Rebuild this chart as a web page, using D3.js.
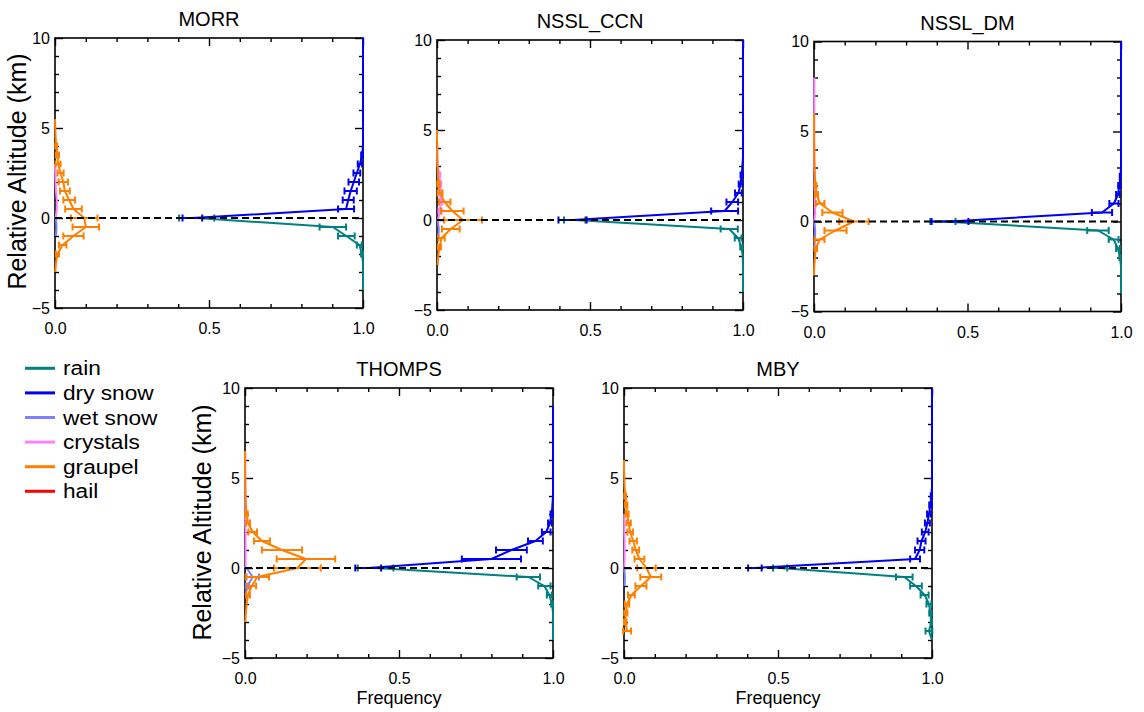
<!DOCTYPE html>
<html><head><meta charset="utf-8">
<script src="https://cdn.jsdelivr.net/npm/d3@7"></script>
<style>body{margin:0;background:#fff}svg{display:block}</style>
</head><body><svg id="c" width="1144" height="712"></svg>
<script>
const n = null;
// altitude levels (km relative)
const ALT = [-5,-4.5,-4,-3.5,-3, -2.5,-2,-1.5,-1,-0.5, 0,0.5,1,1.5,2, 2.5,3,3.5,4,4.5, 5,5.5,6,6.5,7, 7.5,8,8.5,9,9.5, 10];
const MODELS = ["MORR","NSSL_CCN","NSSL_DM","THOMPS","MBY"];
const SPECIES = ["rain","dry snow","wet snow","crystals","graupel","hail"];
const X_MAJOR = [0,0.5,1];
const X_LABELS = ["0.0","0.5","1.0"];
const X_MINOR = [0.1,0.2,0.3,0.4,0.6,0.7,0.8,0.9];
const Y_MAJOR = [-5,0,5,10];
const Y_LABELS = ["\u22125","0","5","10"];
const Y_MINOR = [-4,-3,-2,-1,1,2,3,4,6,7,8,9];

const NO_ERR = [0,0,0,0,0, 0,0,0,0,0, 0,0,0,0,0, 0,0,0,0,0, 0,0,0,0,0, 0,0,0,0,0, 0];
const noHail = [n,n,n,n,n, n,n,n,n,n, n,n,n,n,n, n,n,n,n,n, n,n,n,n,n, n,n,n,n,n, n];

// MORR
const morrRain    = [n,n,1,1,1, 1,.997,.988,.946,.902, .46,n,n,n,n, n,n,n,n,n, n,n,n,n,n, n,n,n,n,n, n];
const morrRainErr = [0,0,0,0,0, 0,.003,.008,.027,.043, .057,0,0,0,0, 0,0,0,0,0, 0,0,0,0,0, 0,0,0,0,0, 0];
const morrDry     = [n,n,n,n,n, n,n,n,n,n, .446,.945,.952,.96,.97, .98,.99,.997,1,1, 1,1,1,1,1, 1,1,1,1,1, 1];
const morrDryErr  = [0,0,0,0,0, 0,0,0,0,0, .032,.026,.018,.02,.017, .011,.007,.003,0,0, 0,0,0,0,0, 0,0,0,0,0, 0];
const morrWet     = [n,n,n,n,n, n,n,n,.003,.005, .003,n,n,n,n, n,n,n,n,n, n,n,n,n,n, n,n,n,n,n, n];
const morrCrys    = [n,n,n,n,n, n,n,n,n,n, .002,.006,.006,.003,.002, .001,0,n,n,n, n,n,n,n,n, n,n,n,n,n, n];
const morrGrau    = [n,n,n,n,.001, .003,.008,.025,.06,.1, .095,.06,.046,.032,.027, .018,.01,.008,.004,.002, .001,0,n,n,n, n,n,n,n,n, n];
const morrGrauErr = [0,0,0,0,0, 0,.005,.012,.033,.043, .043,.027,.019,.016,.015, .01,.008,.005,.003,0, 0,0,0,0,0, 0,0,0,0,0, 0];

// NSSL_CCN
const ccnRain     = [n,n,1,1,1, 1,.999,.995,.984,.955, .45,n,n,n,n, n,n,n,n,n, n,n,n,n,n, n,n,n,n,n, n];
const ccnRainErr  = [0,0,0,0,0, 0,0,.004,.011,.028, .035,0,0,0,0, 0,0,0,0,0, 0,0,0,0,0, 0,0,0,0,0, 0];
const ccnDry      = [n,n,n,n,n, n,n,n,n,n, .443,.94,.965,.985,.992, .996,.998,1,1,1, 1,1,1,1,1, 1,1,1,1,1, 1];
const ccnDryErr   = [0,0,0,0,0, 0,0,0,0,0, .046,.044,.019,.011,.006, .004,0,0,0,0, 0,0,0,0,0, 0,0,0,0,0, 0];
const ccnWet      = [n,n,n,n,n, n,n,n,.004,.006, .002,n,n,n,n, n,n,n,n,n, n,n,n,n,n, n,n,n,n,n, n];
const ccnCrys     = [n,n,n,n,n, n,n,n,n,n, .003,.01,.012,.012,.01, .008,.002,.001,0,n, n,n,n,n,n, n,n,n,n,n, n];
const ccnCrysErr  = [0,0,0,0,0, 0,0,0,0,0, 0,.005,.005,.004,.004, .003,0,0,0,0, 0,0,0,0,0, 0,0,0,0,0, 0];
const ccnGrau     = [n,n,n,n,n, .002,.004,.008,.015,.045, .085,.05,.025,.01,.005, .003,.002,.001,.001,0, 0,n,n,n,n, n,n,n,n,n, n];
const ccnGrauErr  = [0,0,0,0,0, 0,0,.005,.01,.029, .062,.037,.019,.008,.004, 0,0,0,0,0, 0,0,0,0,0, 0,0,0,0,0, 0];

// NSSL_DM
const dmRain      = [n,n,1,1,1, 1,.997,.99,.976,.925, .42,n,n,n,n, n,n,n,n,n, n,n,n,n,n, n,n,n,n,n, n];
const dmRainErr   = [0,0,0,0,0, 0,.002,.006,.016,.035, .041,0,0,0,0, 0,0,0,0,0, 0,0,0,0,0, 0,0,0,0,0, 0];
const dmDry       = [n,n,n,n,n, n,n,n,n,n, .443,.938,.977,.99,.995, .998,1,1,1,1, 1,1,1,1,1, 1,1,1,1,1, 1];
const dmDryErr    = [0,0,0,0,0, 0,0,0,0,0, .06,.033,.015,.006,.004, .002,0,0,0,0, 0,0,0,0,0, 0,0,0,0,0, 0];
const dmWet       = [n,n,n,n,n, n,n,.001,.003,.004, .001,n,n,n,n, n,n,n,n,n, n,n,n,n,n, n,n,n,n,n, n];
const dmCrys      = [n,n,n,n,n, n,n,n,n,n, .001,.004,.003,.003,.002, .002,.001,.001,.001,.001, .001,.001,.001,.001,.001, .001,.001,n,n,n, n];
const dmGrau      = [n,n,n,n,0, .001,.003,.006,.018,.07, .13,.06,.02,.008,.005, .003,.002,.001,.001,0, 0,0,0,n,n, n,n,n,n,n, n];
const dmGrauErr   = [0,0,0,0,0, 0,0,.004,.016,.036, .048,.033,.014,.005,.003, 0,0,0,0,0, 0,0,0,0,0, 0,0,0,0,0, 0];

// THOMPS
const thRain      = [n,n,1,1,1, 1,.997,.988,.972,.92, .424,n,n,n,n, n,n,n,n,n, n,n,n,n,n, n,n,n,n,n, n];
const thRainErr   = [0,0,0,0,0, 0,.003,.008,.02,.038, .058,0,0,0,0, 0,0,0,0,0, 0,0,0,0,0, 0,0,0,0,0, 0];
const thDry       = [n,n,n,n,n, n,n,n,n,n, .40,.80,.865,.943,.978, .99,.996,.998,1,1, 1,1,1,1,1, 1,1,1,1,n, n];
const thDryErr    = [0,0,0,0,0, 0,0,0,0,0, .042,.096,.05,.024,.014, .006,.004,0,0,0, 0,0,0,0,0, 0,0,0,0,0, 0];
const thWet       = [n,n,n,n,n, n,n,.002,.008,.025, .005,n,n,n,n, n,n,n,n,n, n,n,n,n,n, n,n,n,n,n, n];
const thWetErr    = [0,0,0,0,0, 0,0,0,.005,.02, 0,0,0,0,0, 0,0,0,0,0, 0,0,0,0,0, 0,0,0,0,0, 0];
const thCrys      = [n,n,n,n,n, n,n,n,n,n, .002,.002,.002,.002,.002, .001,.001,.001,.001,.001, .001,.001,.001,.001,n, n,n,n,n,n, n];
const thGrau      = [n,n,n,n,.001, .003,.005,.01,.022,.04, .17,.198,.12,.055,.025, .01,.005,.003,.002,.001, .001,0,0,0,n, n,n,n,n,n, n];
const thGrauErr   = [0,0,0,0,0, 0,0,.006,.014,.038, .076,.095,.065,.026,.014, .006,.004,0,0,0, 0,0,0,0,0, 0,0,0,0,0, 0];

// MBY
const mbyRain     = [n,n,1,.99,.998, .995,.99,.976,.948,.91, .507,n,n,n,n, n,n,n,n,n, n,n,n,n,n, n,n,n,n,n, n];
const mbyRainErr  = [0,0,0,.011,.002, .004,.008,.013,.019,.027, .023,0,0,0,0, 0,0,0,0,0, 0,0,0,0,0, 0,0,0,0,0, 0];
const mbyDry      = [n,n,n,n,n, n,n,n,n,n, .425,.945,.96,.966,.978, .985,.99,.995,.998,1, 1,1,1,1,1, 1,1,1,1,1, 1];
const mbyDryErr   = [0,0,0,0,0, 0,0,0,0,0, .022,.016,.015,.013,.011, .008,.006,.004,.002,0, 0,0,0,0,0, 0,0,0,0,0, 0];
const mbyWet      = [n,n,n,n,n, n,n,n,.002,.003, .001,n,n,n,n, n,n,n,n,n, n,n,n,n,n, n,n,n,n,n, n];
const mbyCrys     = [n,n,n,n,n, n,n,n,n,n, .001,.002,.002,.002,.001, .001,.001,n,n,n, n,n,n,n,n, n,n,n,n,n, n];
const mbyGrau     = [n,n,n,.01,.004, .006,.01,.024,.055,.087, .073,.05,.038,.03,.02, .015,.01,.007,.004,.002, .001,0,0,n,n, n,n,n,n,n, n];
const mbyGrauErr  = [0,0,0,.013,.004, .005,.007,.011,.018,.034, .03,.016,.011,.012,.009, .007,.005,.004,.003,0, 0,0,0,0,0, 0,0,0,0,0, 0];

const COLORS = ["#008080","#0000ee","#8080ff","#ff80ff","#ff8000","#ff0000"];

const PANEL_SERIES = [
  [[morrRain,morrRainErr],[morrDry,morrDryErr],[morrWet,NO_ERR],[morrCrys,NO_ERR],[morrGrau,morrGrauErr],[noHail,NO_ERR]],
  [[ccnRain,ccnRainErr],[ccnDry,ccnDryErr],[ccnWet,NO_ERR],[ccnCrys,ccnCrysErr],[ccnGrau,ccnGrauErr],[noHail,NO_ERR]],
  [[dmRain,dmRainErr],[dmDry,dmDryErr],[dmWet,NO_ERR],[dmCrys,NO_ERR],[dmGrau,dmGrauErr],[noHail,NO_ERR]],
  [[thRain,thRainErr],[thDry,thDryErr],[thWet,thWetErr],[thCrys,NO_ERR],[thGrau,thGrauErr],[noHail,NO_ERR]],
  [[mbyRain,mbyRainErr],[mbyDry,mbyDryErr],[mbyWet,NO_ERR],[mbyCrys,NO_ERR],[mbyGrau,mbyGrauErr],[noHail,NO_ERR]]
];

const LAYOUT = [
  {x:55,  y:38,   w:308, h:270, ylab:[25.5,171.5]},
  {x:437, y:40,   w:306, h:270},
  {x:814, y:41.5, w:307, h:270},
  {x:245, y:388,  w:308, h:270, ylab:[211,522.5], xlab:true},
  {x:624, y:388,  w:308, h:270, xlab:true}
];

const FONT = "'Liberation Sans', Arial, Helvetica, sans-serif";
const svg = d3.select("#c");
svg.append("rect").attr("width",1144).attr("height",712).attr("fill","#fff");

MODELS.forEach((name,i)=>{
  const L = LAYOUT[i];
  const g = svg.append("g").attr("transform",`translate(${L.x},${L.y})`);
  const x = d3.scaleLinear().domain([0,1]).range([0,L.w]);
  const y = d3.scaleLinear().domain([-5,10]).range([L.h,0]);

  g.append("rect").attr("width",L.w).attr("height",L.h)
    .attr("fill","none").attr("stroke","#000").attr("stroke-width",1.6);

  const ax = (gen,tx,ty)=>{
    const a = g.append("g").attr("transform",`translate(${tx},${ty})`).call(gen);
    a.select(".domain").remove();
    a.selectAll("line").attr("stroke","#000").attr("stroke-width",1.4);
    a.selectAll("text").attr("font-family",FONT).attr("font-size",16).attr("fill","#000");
    return a;
  };
  ax(d3.axisBottom(x).tickValues(X_MAJOR).tickFormat((d,j)=>X_LABELS[j]).tickSizeInner(-8).tickSizeOuter(0).tickPadding(15),0,L.h);
  ax(d3.axisBottom(x).tickValues(X_MINOR).tickFormat("").tickSizeInner(-4).tickSizeOuter(0),0,L.h);
  ax(d3.axisTop(x).tickValues(X_MAJOR).tickFormat("").tickSizeInner(-8).tickSizeOuter(0),0,0);
  ax(d3.axisTop(x).tickValues(X_MINOR).tickFormat("").tickSizeInner(-4).tickSizeOuter(0),0,0);
  ax(d3.axisLeft(y).tickValues(Y_MAJOR).tickFormat((d,j)=>Y_LABELS[j]).tickSizeInner(-8).tickSizeOuter(0).tickPadding(5),0,0);
  ax(d3.axisLeft(y).tickValues(Y_MINOR).tickFormat("").tickSizeInner(-4).tickSizeOuter(0),0,0);
  ax(d3.axisRight(y).tickValues(Y_MAJOR).tickFormat("").tickSizeInner(-8).tickSizeOuter(0),L.w,0);
  ax(d3.axisRight(y).tickValues(Y_MINOR).tickFormat("").tickSizeInner(-4).tickSizeOuter(0),L.w,0);

  g.append("text").attr("x",L.w/2).attr("y",-12).attr("text-anchor","middle")
    .attr("font-family",FONT).attr("font-size",20).text(name);

  PANEL_SERIES[i].forEach(([vals,errs],s)=>{
    const pts = ALT.map((a,k)=>({a:a, v:vals[k], e:errs[k]}));
    const line = d3.line().defined(d=>d.v!==null).x(d=>x(d.v)).y(d=>y(d.a));
    g.append("path").datum(pts).attr("d",line).attr("fill","none")
      .attr("stroke",COLORS[s]).attr("stroke-width",2).attr("stroke-linejoin","round");
    const eb = pts.filter(d=>d.v!==null && d.e>0);
    g.append("g").selectAll("path").data(eb).enter().append("path")
      .attr("d",d=>{
        const x1=x(d.v-d.e), x2=x(d.v+d.e), yy=y(d.a);
        return `M${x1},${yy}H${x2}M${x1},${yy-3.5}V${yy+3.5}M${x2},${yy-3.5}V${yy+3.5}`;
      })
      .attr("fill","none").attr("stroke",COLORS[s]).attr("stroke-width",2);
  });

  g.append("line").attr("x1",x(0)).attr("x2",x(1)).attr("y1",y(0)).attr("y2",y(0))
    .attr("stroke","#000").attr("stroke-width",2).attr("stroke-dasharray","7,4");

  if (L.ylab) {
    svg.append("text").attr("transform",`translate(${L.ylab[0]},${L.ylab[1]}) rotate(-90)`)
      .attr("text-anchor","middle").attr("font-family",FONT).attr("font-size",25)
      .text("Relative Altitude (km)");
  }
  if (L.xlab) {
    g.append("text").attr("x",L.w/2).attr("y",L.h+46).attr("text-anchor","middle")
      .attr("font-family",FONT).attr("font-size",18).text("Frequency");
  }
});

// legend
const LEG_Y0 = 368.3, LEG_DY = 24.6;
const leg = svg.append("g");
SPECIES.forEach((sp,s)=>{
  const yy = LEG_Y0 + s*LEG_DY;
  leg.append("line").attr("x1",25).attr("x2",55).attr("y1",yy).attr("y2",yy)
    .attr("stroke",COLORS[s]).attr("stroke-width",3);
  leg.append("text").attr("transform",`translate(63,${yy+7}) scale(1.08,1)`)
    .attr("font-family",FONT).attr("font-size",21).text(sp);
});
</script>
</body></html>
